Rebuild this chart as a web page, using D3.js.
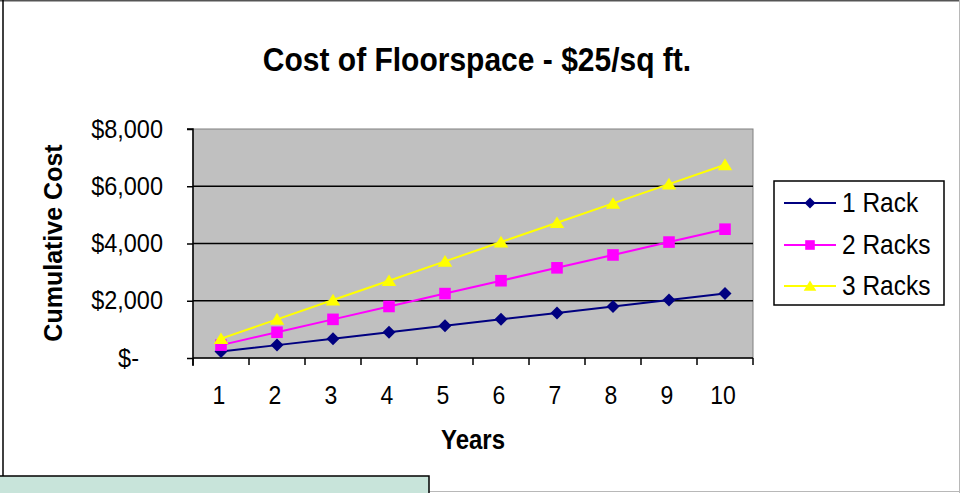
<!DOCTYPE html>
<html><head><meta charset="utf-8">
<script src="https://cdn.jsdelivr.net/npm/d3@7/dist/d3.min.js"></script>
<style>html,body{margin:0;padding:0;background:#fff;}svg{display:block;}</style>
</head><body>
<svg id="c" width="960" height="493"></svg>
<script>
const years = ["1","2","3","4","5","6","7","8","9","10"];
const rack1 = [225,450,675,900,1125,1350,1575,1800,2025,2250];
const rack2 = [450,900,1350,1800,2250,2700,3150,3600,4050,4500];
const rack3 = [675,1350,2025,2700,3375,4050,4725,5400,6075,6750];
const seriesNames = ["1 Rack","2 Racks","3 Racks"];
const yTicks = [0,2000,4000,6000,8000];

// custom marker shapes (size = half extent)
const diamond = {draw(c,s){c.moveTo(0,-s);c.lineTo(s,0);c.lineTo(0,s);c.lineTo(-s,0);c.closePath();}};
const square = {draw(c,s){c.rect(-s,-s,2*s,2*s);}};
const triangle = {draw(c,s){c.moveTo(0,-s*1.0);c.lineTo(s*1.15,s*0.85);c.lineTo(-s*1.15,s*0.85);c.closePath();}};

const series = [
  {name:seriesNames[0], values:rack1, color:"#000080", sym:diamond, size:6.5},
  {name:seriesNames[1], values:rack2, color:"#ff00ff", sym:square, size:5.8},
  {name:seriesNames[2], values:rack3, color:"#ffff00", sym:triangle, size:6.3}
];

const svg = d3.select("#c");
const F = "'Liberation Sans', Arial, sans-serif";
const SY = 1.12; // vertical stretch of text as in reference

function stext(g, x, yb, str, size, anchor, weight){
  const t = g.append("g").attr("transform",`translate(${x},${yb}) scale(1,${SY})`)
    .append("text").attr("text-anchor",anchor||"start").attr("font-family",F)
    .attr("font-size",size).attr("fill","#000").text(str);
  if(weight) t.attr("font-weight",weight);
  return t;
}

// outer frame
svg.append("rect").attr("x",0).attr("y",0).attr("width",960).attr("height",493).attr("fill","#fff");
svg.append("line").attr("x1",0).attr("x2",960).attr("y1",0.75).attr("y2",0.75).attr("stroke","#555").attr("stroke-width",1.5);
svg.append("line").attr("x1",959.5).attr("x2",959.5).attr("y1",0).attr("y2",493).attr("stroke","#b8b8b8").attr("stroke-width",1);
svg.append("line").attr("x1",0).attr("x2",960).attr("y1",491.5).attr("y2",491.5).attr("stroke","#b8b8b8").attr("stroke-width",1);
svg.append("line").attr("x1",3).attr("x2",3).attr("y1",0).attr("y2",476).attr("stroke","#000").attr("stroke-width",1.5);
svg.append("rect").attr("x",-2).attr("y",476).attr("width",431).attr("height",20)
  .attr("fill","#c8e4da").attr("stroke","#000").attr("stroke-width",1.5);

const L=193, R=753, T=129, B=358;
const x = d3.scaleBand().domain(years).range([L,R]).padding(0);
const y = d3.scaleLinear().domain([0,8000]).range([B,T]);

svg.append("rect").attr("x",L).attr("y",T).attr("width",R-L).attr("height",B-T)
  .attr("fill","#c0c0c0").attr("stroke","#808080").attr("stroke-width",1);

svg.append("g").selectAll("line").data(yTicks.filter(d=>d>0&&d<8000)).join("line")
  .attr("x1",L).attr("x2",R).attr("y1",d=>y(d)).attr("y2",d=>y(d))
  .attr("stroke","#000").attr("stroke-width",1.5);

// y axis
const yAxis = d3.axisLeft(y).tickValues(yTicks).tickSize(6).tickFormat("");
const gy = svg.append("g").attr("transform",`translate(${L},0)`).call(yAxis);
gy.select(".domain").attr("stroke","#000").attr("stroke-width",1.5).attr("d",`M-6,${T}H0V${B+8}`);
gy.selectAll(".tick line").attr("stroke","#000").attr("stroke-width",1.5);
const yfmt = d=> d===0 ? "$-" : "$"+d3.format(",")(d);
const gyl = svg.append("g");
yTicks.forEach(v=>{
  stext(gyl, v===0 ? 139 : 163, y(v)+8.5, yfmt(v), 23.5, "end");
});

// x axis
const gx = svg.append("g").attr("transform",`translate(0,${B})`);
gx.append("line").attr("x1",L).attr("x2",R).attr("y1",0).attr("y2",0).attr("stroke","#000").attr("stroke-width",1.5);
const xb = years.map(d=>x(d)).concat([R]);
gx.selectAll(".xt").data(xb).join("line").attr("class","xt")
  .attr("x1",d=>d).attr("x2",d=>d).attr("y1",0).attr("y2",7).attr("stroke","#000").attr("stroke-width",1.5);
years.forEach(d=>{ stext(gx, x(d)+x.bandwidth()/2-2, 46, d, 23, "middle"); });

// lines & markers
const cx = d=>x(d)+x.bandwidth()/2;
series.forEach(s=>{
  const pts = years.map((yr,i)=>[cx(yr), y(s.values[i])]);
  svg.append("path").attr("d",d3.line()(pts)).attr("fill","none").attr("stroke",s.color).attr("stroke-width",2);
  svg.append("g").selectAll("path").data(pts).join("path")
    .attr("transform",d=>`translate(${d[0]},${d[1]})`)
    .attr("d",d3.symbol().type(s.sym).size(s.size)).attr("fill",s.color);
});

// title
stext(svg, 477, 71, "Cost of Floorspace - $25/sq ft.", 30, "middle", "bold");
// axis titles
stext(svg, 473, 449, "Years", 24, "middle", "bold");
svg.append("g").attr("transform","translate(62,243) rotate(-90)")
  .append("text").attr("text-anchor","middle")
  .attr("font-family",F).attr("font-weight","bold").attr("font-size",25).text("Cumulative Cost");

// legend
const lg = svg.append("g");
lg.append("rect").attr("x",774).attr("y",181).attr("width",170).attr("height",124)
  .attr("fill","#fff").attr("stroke","#000").attr("stroke-width",1.5);
const ly = [203,245,286];
const legendSize = [5.5,4.8,5.5];
series.forEach((s,i)=>{
  lg.append("line").attr("x1",784).attr("x2",836).attr("y1",ly[i]).attr("y2",ly[i]).attr("stroke",s.color).attr("stroke-width",2);
  lg.append("path").attr("transform",`translate(810,${ly[i]})`).attr("d",d3.symbol().type(s.sym).size(legendSize[i])).attr("fill",s.color);
  stext(lg, 842, ly[i]+9, s.name, 24.5, "start");
});
</script>
</body></html>
